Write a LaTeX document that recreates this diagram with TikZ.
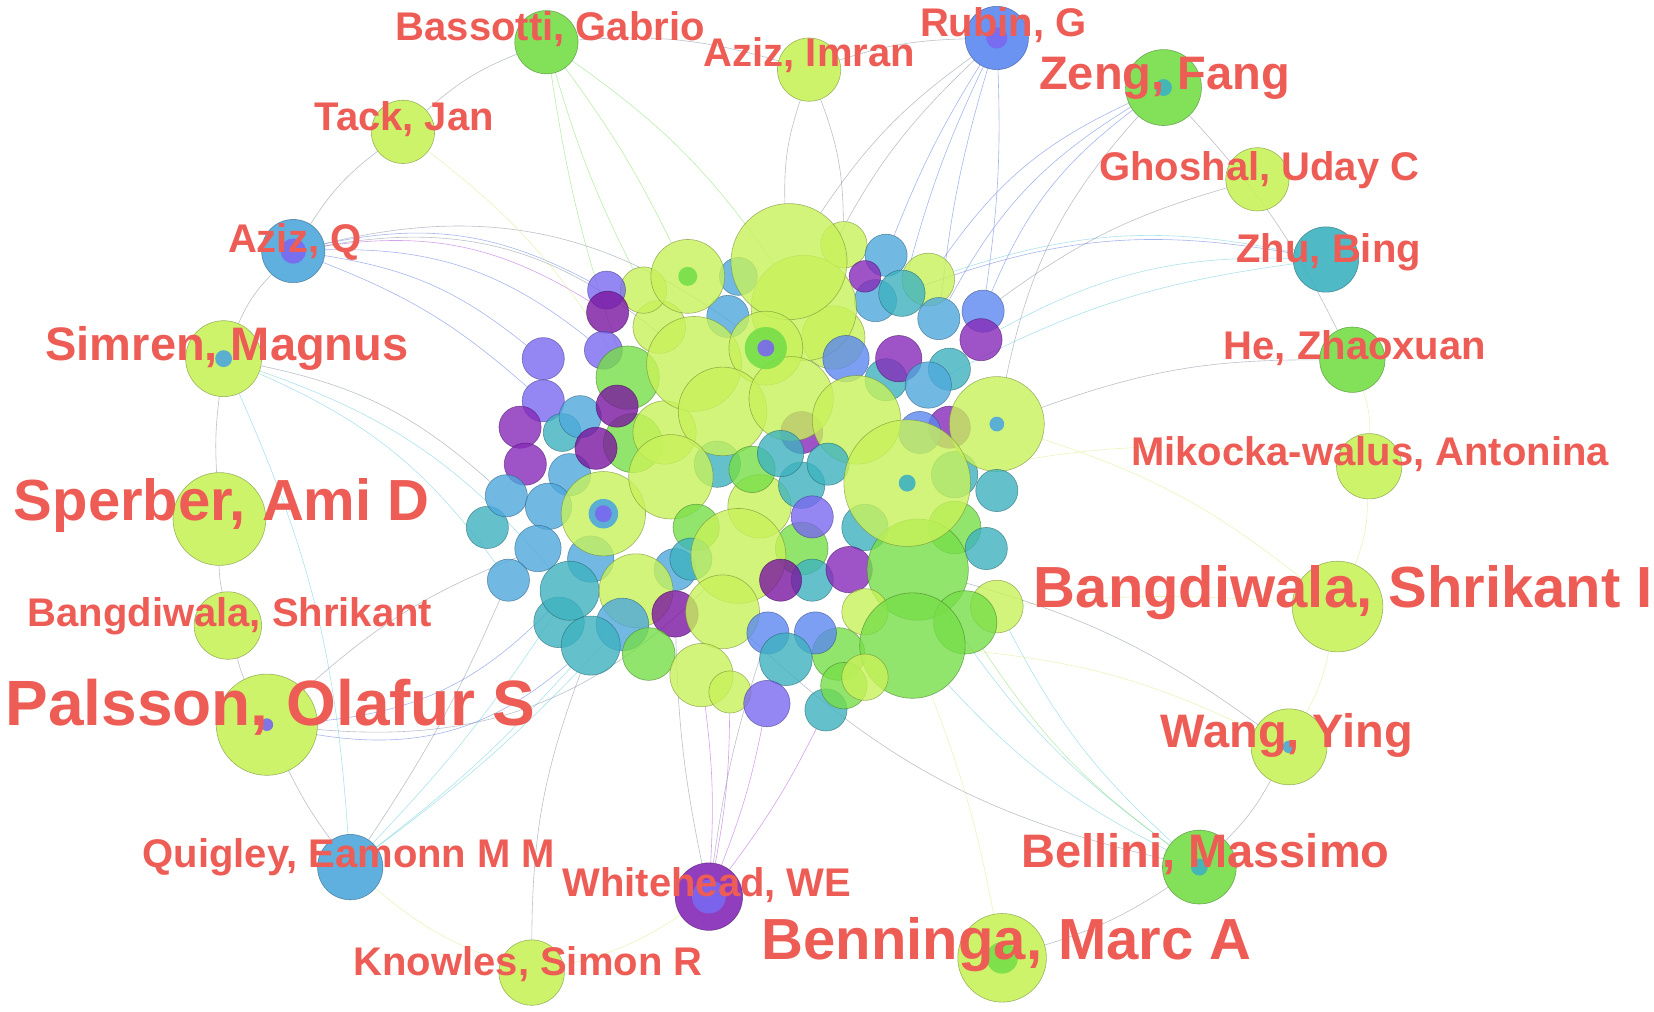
\documentclass[tikz,border=0pt]{standalone}
\usepackage{fontspec}
\setmainfont{Liberation Sans}
\pgfdeclarelayer{bgl}
\pgfdeclarelayer{edl}
\pgfsetlayers{bgl,edl,main}
\definecolor{yg}{RGB}{200,242,90}
\definecolor{gr}{RGB}{118,222,72}
\definecolor{tl}{RGB}{62,178,192}
\definecolor{tb}{RGB}{78,168,220}
\definecolor{bl}{RGB}{92,136,240}
\definecolor{bp}{RGB}{122,104,240}
\definecolor{pu}{RGB}{134,42,184}
\definecolor{dp}{RGB}{122,22,160}
\definecolor{labc}{RGB}{238,92,86}
\definecolor{eg}{RGB}{120,130,150}
\definecolor{eb}{RGB}{80,110,220}
\definecolor{ec}{RGB}{90,200,220}
\definecolor{eG}{RGB}{120,220,90}
\definecolor{ey}{RGB}{215,235,120}
\definecolor{ep}{RGB}{170,70,220}
\newcommand\bb[5]{\node[bub=#1,minimum size=#5*2.1096pt] (#2) at (#3,#4) {};}
\newcommand\pb[5]{\node[pbub=#1,minimum size=#5*2.1096pt] (#2) at (#3,#4) {};}
\newcommand\dt[3]{\fill[#1,opacity=.9] (#2.center) circle[radius=#3*1.0548pt];}
\begin{document}
\begin{tikzpicture}[x=1.0548pt,y=-1.0548pt,
  bub/.style={circle,inner sep=0pt,fill=#1,draw=#1!55!black,fill opacity=.8,draw opacity=.6,line width=.6pt},
  pbub/.style={circle,inner sep=0pt,fill=#1,draw=#1!55!black,fill opacity=.9,draw opacity=.6,line width=.6pt},
  lab/.style={text=labc,anchor=base west,inner sep=0pt},
  fS/.style={font=\fontsize{40}{40}\selectfont\bfseries},
  fM/.style={font=\fontsize{47}{47}\selectfont\bfseries},
  fL/.style={font=\fontsize{58}{58}\selectfont\bfseries},
  fX/.style={font=\fontsize{64}{64}\selectfont\bfseries},
  e/.style={line width=.6pt,draw=#1,draw opacity=.5}]
\useasboundingbox (0,0) rectangle (1568,959);
\begin{pgfonlayer}{bgl}\fill[white] (0,0) rectangle (1568,959);\end{pgfonlayer}
\clip (0,0) rectangle (1568,959);
% central cluster: filler circles behind
\bb{yg}{f1}{720}{480}{30}
\bb{gr}{f2}{600}{420}{28}
\bb{tl}{f3}{760}{460}{22}
\bb{tl}{f4}{820}{500}{22}
\bb{yg}{f5}{790}{320}{30}
\bb{tl}{f6}{905}{450}{22}
\bb{tl}{f7}{900}{350}{20}
\bb{yg}{f8}{630}{410}{30}
\bb{tb}{f9}{540}{450}{20}
\bb{tb}{f10}{560}{530}{22}
\bb{tb}{f11}{830}{285}{20}
\bb{tb}{f12}{700}{262}{18}
\bb{gr}{f13}{795}{620}{25}
\bb{tb}{f14}{640}{540}{20}
\bb{gr}{f15}{905}{500}{25}
\bb{tl}{f16}{462}{500}{20}
\bb{tl}{f17}{530}{590}{24}
\bb{gr}{f18}{760}{520}{25}
\bb{tl}{f19}{680}{440}{22}
\bb{yg}{f20}{625}{310}{25}
% central cluster
\bb{yg}{c1}{610}{275}{22}
\bb{bp}{c2}{575}{275}{18}
\bb{tb}{c3}{690}{300}{20}
\bb{yg}{c4}{652}{262}{35}
\bb{yg}{c5}{800}{232}{22}
\bb{tb}{c6}{840}{242}{20}
\bb{yg}{c7}{880}{265}{25}
\bb{tl}{c8}{855}{278}{22}
\bb{pu}{c9}{820}{262}{15}
\bb{bl}{c10}{932}{295}{20}
\bb{pu}{c11}{930}{322}{20}
\bb{tb}{c12}{890}{302}{20}
\bb{yg}{c13}{762}{292}{50}
\bb{yg}{c14}{748}{248}{55}
\bb{dp}{c15}{576}{296}{20}
\bb{bp}{c16}{572}{332}{18}
\bb{gr}{c17}{595}{358}{30}
\bb{bp}{c18}{515}{340}{20}
\bb{bp}{c19}{515}{380}{20}
\bb{pu}{c20}{493}{405}{20}
\bb{pu}{c21}{498}{440}{20}
\bb{tl}{c22}{533}{410}{18}
\bb{tb}{c23}{550}{395}{20}
\bb{dp}{c24}{585}{385}{20}
\bb{dp}{c25}{565}{425}{20}
\bb{tl}{c33}{840}{360}{20}
\bb{bl}{c28}{802}{340}{22}
\bb{pu}{c29}{852}{340}{22}
\bb{tb}{c30}{880}{365}{22}
\bb{pu}{c31}{900}{405}{20}
\bb{bl}{c32}{872}{410}{20}
\bb{yg}{c26}{658}{345}{45}
\bb{yg}{c27}{726}{330}{35}
\bb{pu}{c51}{760}{410}{20}
\bb{yg}{c34}{685}{390}{42}
\bb{yg}{c35}{750}{378}{40}
\bb{yg}{c36}{812}{398}{42}
\bb{yg}{c37}{945}{402}{45}
\bb{tl}{c38}{945}{465}{20}
\bb{tl}{c39}{935}{520}{20}
\bb{tb}{c40}{480}{470}{20}
\bb{tb}{c41}{520}{480}{22}
\bb{tb}{c42}{510}{520}{22}
\bb{tb}{c43}{482}{550}{20}
\bb{tl}{c44}{540}{560}{28}
\bb{yg}{c45}{572}{487}{40}
\bb{yg}{c46}{636}{452}{40}
\bb{gr}{c47}{713}{445}{22}
\bb{tl}{c48}{740}{430}{22}
\bb{tl}{c49}{785}{440}{20}
\bb{bp}{c50}{770}{490}{20}
\bb{gr}{c52}{660}{500}{22}
\bb{tl}{c53}{655}{530}{20}
\bb{yg}{c54}{700}{527}{45}
\bb{tl}{c55}{770}{550}{20}
\bb{dp}{c56}{740}{550}{20}
\bb{pu}{c57}{805}{540}{22}
\bb{gr}{c58}{870}{540}{48}
\bb{yg}{c59}{860}{458}{60}
\bb{yg}{c60}{603}{560}{35}
\bb{tb}{c61}{590}{592}{25}
\bb{tl}{c62}{560}{612}{28}
\bb{dp}{c63}{640}{582}{22}
\bb{yg}{c64}{685}{580}{35}
\bb{bl}{c65}{728}{600}{20}
\bb{bl}{c66}{773}{600}{20}
\bb{tl}{c67}{745}{625}{25}
\bb{gr}{c68}{615}{620}{25}
\bb{yg}{c69}{820}{580}{22}
\bb{yg}{c70}{945}{575}{25}
\bb{gr}{c71}{915}{590}{30}
\bb{gr}{c72}{865}{612}{50}
\bb{yg}{c73}{665}{640}{30}
\bb{yg}{c74}{692}{656}{20}
\bb{bp}{c75}{727}{667}{22}
\bb{tl}{c76}{783}{673}{20}
\bb{gr}{c78}{800}{650}{22}
\bb{yg}{c77}{820}{642}{22}
\dt{gr}{c4}{9}
\dt{gr}{c27}{20}\dt{bp}{c27}{8}
\dt{tb}{c45}{14}\dt{bp}{c45}{8}
\dt{tb}{c37}{7}
\dt{tl}{c59}{8}
% peripheral nodes
\pb{gr}{bas}{518}{40}{30}
\pb{yg}{azi}{767}{66}{30}
\pb{bl}{rub}{945}{36}{30}
\pb{gr}{zen}{1103}{83}{36}
\pb{yg}{tac}{382}{125}{30}
\pb{yg}{gho}{1192}{170}{30}
\pb{tb}{azq}{278}{238}{30}
\pb{tl}{zhu}{1257}{246}{31}
\pb{yg}{sim}{212}{340}{36}
\pb{gr}{hez}{1282}{341}{31}
\pb{yg}{mik}{1298}{442}{31}
\pb{yg}{spe}{208}{492}{44}
\pb{yg}{bsi}{1268}{575}{43}
\pb{yg}{bsh}{216}{593}{32}
\pb{yg}{pal}{253}{687}{48}
\pb{yg}{wan}{1222}{708}{36}
\pb{tb}{qui}{332}{822}{31}
\pb{gr}{bel}{1137}{822}{35}
\pb{pu}{whi}{672}{850}{32}
\pb{yg}{ben}{950}{908}{42}
\pb{yg}{kno}{504}{922}{31}
\dt{bp}{rub}{10}
\dt{tl}{zen}{8}
\dt{bp}{azq}{12}
\dt{tb}{sim}{8}
\dt{bp}{pal}{6}
\dt{tb}{wan}{6}
\dt{tl}{bel}{8}
\dt{bp}{whi}{16}
\dt{gr}{ben}{15}
% labels
\node[lab,fS] (lbas) at (375,38) {Bassotti, Gabrio};
\node[lab,fS] (lazi) at (667,63) {Aziz, Imran};
\node[lab,fS] (lrub) at (872,35) {Rubin, G};
\node[lab,fM] (lzen) at (985,85) {Zeng, Fang};
\node[lab,fS] (ltac) at (298,124) {Tack, Jan};
\node[lab,fS] (lgho) at (1042,171) {Ghoshal, Uday C};
\node[lab,fS] (lazq) at (216,239) {Aziz, Q};
\node[lab,fS] (lzhu) at (1172,249) {Zhu, Bing};
\node[lab,fM] (lsim) at (43,342) {Simren, Magnus};
\node[lab,fS] (lhez) at (1160,341) {He, Zhaoxuan};
\node[lab,fS] (lmik) at (1072,441) {Mikocka-walus, Antonina};
\node[lab,fL] (lspe) at (13,493) {Sperber, Ami D};
\node[lab,fL] (lbsi) at (980,576) {Bangdiwala, Shrikant I};
\node[lab,fS] (lbsh) at (26,594) {Bangdiwala, Shrikant};
\node[lab,fX] (lpal) at (5,688) {Palsson, Olafur S};
\node[lab,fM] (lwan) at (1100,709) {Wang, Ying};
\node[lab,fS] (lqui) at (135,822) {Quigley, Eamonn M M};
\node[lab,fM] (lbel) at (968,822) {Bellini, Massimo};
\node[lab,fS] (lwhi) at (533,850) {Whitehead, WE};
\node[lab,fL] (lben) at (722,910) {Benninga, Marc A};
\node[lab,fS] (lkno) at (335,925) {Knowles, Simon R};
% edges
\begin{pgfonlayer}{edl}
\draw[e=eg] (bas) to[bend right=10] (tac);
\draw[e=eg] (tac) to[bend right=10] (azq);
\draw[e=eg] (azq) to[bend right=10] (sim);
\draw[e=eg] (sim) to[bend right=5] (spe);
\draw[e=eg] (spe) to[bend right=5] (bsh);
\draw[e=eg] (bsh) to[bend right=5] (pal);
\draw[e=eg] (pal) to[bend right=5] (qui);
\draw[e=ey] (qui) to[bend right=10] (kno);
\draw[e=eg] (bas) to[bend left=10] (azi);
\draw[e=eg] (azi) to[bend left=8] (rub);
\draw[e=eg] (zen) to[bend left=8] (hez);
\draw[e=ey] (hez) to[bend left=10] (mik);
\draw[e=ey] (mik) to[bend left=10] (bsi);
\draw[e=ey] (bsi) to[bend left=8] (wan);
\draw[e=eg] (wan) to[bend left=8] (bel);
\draw[e=eg] (bel) to[bend left=8] (ben);
\draw[e=ey] (kno) to[bend right=10] (whi);
\draw[e=eb] (azq) to[bend left=15] (c18);
\draw[e=eb] (azq) to[bend left=20] (c2);
\draw[e=ep] (azq) to[bend left=20] (c15);
\draw[e=eb] (azq) to[bend left=20] (c16);
\draw[e=eg] (azq) to[bend left=25] (c26);
\draw[e=eg] (azq) to[bend left=25] (c27);
\draw[e=eb] (azq) to[bend left=10] (c19);
\draw[e=ec] (sim) to[bend left=15] (c44);
\draw[e=ec] (sim) to[bend left=15] (c43);
\draw[e=eg] (sim) to[bend left=15] (c40);
\draw[e=ec] (sim) to[bend left=10] (qui);
\draw[e=eb] (pal) to[bend right=20] (c44);
\draw[e=eb] (pal) to[bend right=25] (c62);
\draw[e=eg] (pal) to[bend right=25] (c54);
\draw[e=eg] (pal) to[bend left=10] (c42);
\draw[e=eG] (bas) to[bend right=5] (c17);
\draw[e=eG] (bas) to[bend left=5] (c4);
\draw[e=eG] (bas) to[bend left=10] (c13);
\draw[e=eG] (bas) to[bend right=5] (c1);
\draw[e=eg] (azi) to[bend right=10] (c14);
\draw[e=eg] (azi) to[bend left=10] (c5);
\draw[e=eb] (rub) to[bend right=5] (c6);
\draw[e=eb] (rub) to[bend right=5] (c8);
\draw[e=eb] (rub) to[bend right=5] (c12);
\draw[e=eg] (rub) to[bend right=10] (c13);
\draw[e=eg] (rub) to[bend right=10] (c14);
\draw[e=eb] (rub) to[bend left=5] (c10);
\draw[e=eb] (zen) to[bend right=15] (c7);
\draw[e=eb] (zen) to[bend right=15] (c10);
\draw[e=eb] (zen) to[bend right=15] (c12);
\draw[e=eg] (zen) to[bend right=15] (c37);
\draw[e=ec] (zhu) to[bend right=15] (c7);
\draw[e=ec] (zhu) to[bend right=15] (c11);
\draw[e=ec] (zhu) to[bend right=10] (c30);
\draw[e=eb] (zhu) to[bend right=15] (c8);
\draw[e=ep] (whi) to[bend right=5] (c73);
\draw[e=ep] (whi) to[bend right=5] (c74);
\draw[e=ep] (whi) to[bend right=5] (c75);
\draw[e=ep] (whi) to[bend right=5] (c76);
\draw[e=eg] (whi) to[bend left=5] (c63);
\draw[e=eg] (whi) to[bend left=5] (c65);
\draw[e=ec] (bel) to[bend left=10] (c72);
\draw[e=ec] (bel) to[bend left=10] (c58);
\draw[e=eG] (bel) to[bend left=10] (c71);
\draw[e=ec] (bel) to[bend left=10] (c70);
\draw[e=eg] (bel) to[bend left=15] (c64);
\draw[e=ec] (qui) to[bend right=5] (c44);
\draw[e=ec] (qui) to[bend right=5] (c61);
\draw[e=ec] (qui) to[bend right=5] (c62);
\draw[e=eg] (qui) to[bend right=5] (c43);
\draw[e=ey] (ben) to[bend right=5] (c72);
\draw[e=ey] (bsi) to[bend right=10] (c37);
\draw[e=ey] (bsi) to[bend right=5] (c70);
\draw[e=ey] (mik) to[bend right=10] (c59);
\draw[e=eg] (hez) to[bend right=10] (c37);
\draw[e=eg] (gho) to[bend right=10] (c10);
\draw[e=ey] (tac) to[bend left=10] (c17);
\draw[e=eg] (kno) to[bend left=10] (c62);
\draw[e=ey] (wan) to[bend right=10] (c72);
\draw[e=eg] (wan) to[bend right=10] (c58);
\end{pgfonlayer}
\end{tikzpicture}
\end{document}
